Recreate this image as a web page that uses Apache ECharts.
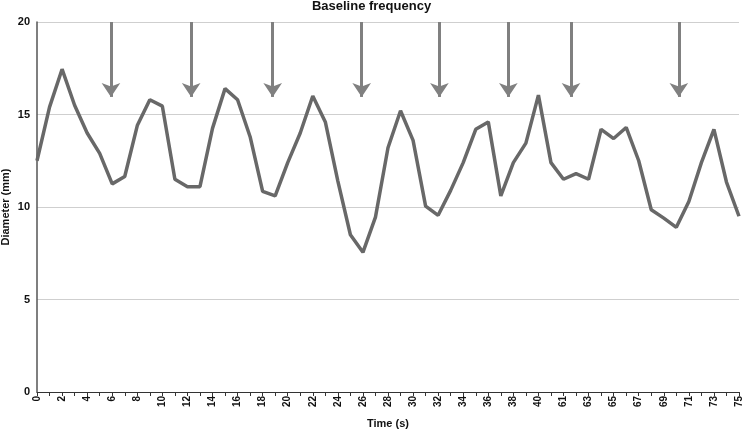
<!DOCTYPE html>
<html>
<head>
<meta charset="utf-8">
<script src="https://cdn.jsdelivr.net/npm/echarts@6/dist/echarts.min.js"></script>
<style>
  html, body { margin: 0; padding: 0; background: #fff; }
  #chart { width: 743px; height: 442px; }
</style>
</head>
<body>
<div id="chart"></div>
<script>
// time labels (s) - the series jumps from 40 to 61
var times = ['0','1','2','3','4','5','6','7','8','9','10','11','12','13','14','15','16','17','18','19',
  '20','21','22','23','24','25','26','27','28','29','30','31','32','33','34','35','36','37','38','39','40',
  '60','61','62','63','64','65','66','67','68','69','70','71','72','73','74','75'];

// diameter (mm)
var diameter = [12.5, 15.4, 17.45, 15.5, 14.0, 12.9, 11.25, 11.65, 14.4, 15.8,
  15.45, 11.5, 11.1, 11.1, 14.25, 16.4, 15.8, 13.8, 10.85, 10.6,
  12.4, 14.0, 16.0, 14.6, 11.4, 8.5, 7.55, 9.45, 13.2, 15.2,
  13.6, 10.05, 9.55, 10.9, 12.4, 14.2, 14.6, 10.6, 12.4, 13.45,
  16.05, 12.4, 11.5, 11.8, 11.5, 14.2, 13.7, 14.3, 12.5, 9.85,
  9.4, 8.9, 10.3, 12.4, 14.2, 11.35, 9.5];

// arrow markers, position along the time axis (category index)
var arrowPos = [5.9, 12.3, 18.8, 25.9, 32.1, 37.6, 42.6, 51.2];
var arrowTop = 20;
var arrowTip = 15.95;

var chart = echarts.init(document.getElementById('chart'));

var arrowLines = arrowPos.map(function (p) {
  return [{ coord: [p, arrowTop] }, { coord: [p, arrowTip] }];
});

var option = {
  backgroundColor: '#ffffff',
  animation: false,
  textStyle: { fontFamily: 'Liberation Sans, Arial, sans-serif' },
  title: {
    text: 'Baseline frequency',
    left: 'center',
    top: -5,
    textStyle: { fontSize: 13, fontWeight: 'bold', color: '#111' }
  },
  grid: { left: 37, right: 4, top: 22, bottom: 50, containLabel: false, outerBoundsMode: 'none' },
  xAxis: [{
    type: 'category',
    data: times,
    boundaryGap: false,
    name: 'Time (s)',
    nameLocation: 'middle',
    nameGap: 26,
    nameMoveOverlap: false,
    nameTextStyle: { fontSize: 11, fontWeight: 'bold', color: '#111' },
    axisLine: { lineStyle: { color: '#333', width: 1 } },
    axisTick: { interval: 0, length: 4, lineStyle: { color: '#333' } },
    axisLabel: { interval: 1, rotate: 90, fontSize: 10, fontWeight: 'bold', color: '#111', margin: 4 },
    splitLine: { show: false }
  }, {
    type: 'value',
    min: 0,
    max: times.length - 1,
    show: false
  }],
  yAxis: {
    type: 'value',
    min: 0,
    max: 20,
    interval: 5,
    name: 'Diameter (mm)',
    nameLocation: 'middle',
    nameGap: 26,
    nameMoveOverlap: false,
    nameTextStyle: { fontSize: 11, fontWeight: 'bold', color: '#111' },
    axisLine: { show: true, lineStyle: { color: '#555', width: 1.5 } },
    axisTick: { show: false },
    axisLabel: { fontSize: 11, fontWeight: 'bold', color: '#111', margin: 7 },
    splitLine: { lineStyle: { color: '#cfcfcf', width: 1 } }
  },
  series: [{
    type: 'line',
    data: diameter,
    symbol: 'none',
    lineStyle: { color: '#686868', width: 3.5 },
    z: 3
  }, {
    type: 'line',
    xAxisIndex: 1,
    data: [],
    markLine: {
      silent: true,
      symbol: ['none', 'arrow'],
      symbolSize: [14, 14],
      label: { show: false },
      lineStyle: { color: '#808080', width: 3, type: 'solid' },
      data: arrowLines
    }
  }]
};

chart.setOption(option);
</script>
</body>
</html>
